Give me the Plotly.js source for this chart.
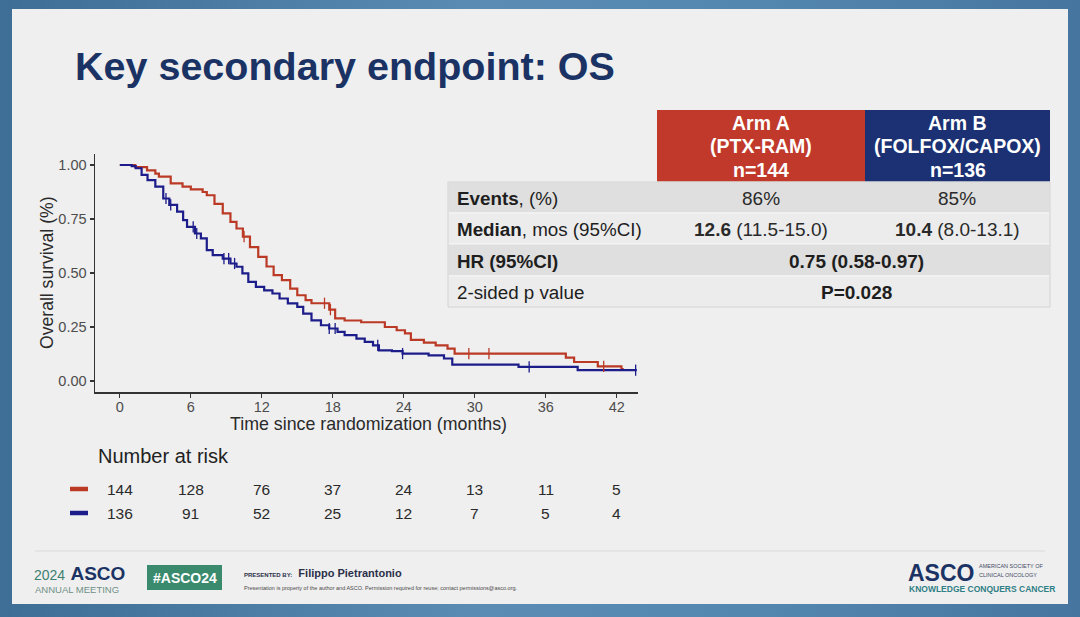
<!DOCTYPE html>
<html>
<head>
<meta charset="utf-8">
<script src="https://cdn.plot.ly/plotly-3.0.1.min.js"></script>
<style>
  html, body { margin: 0; padding: 0; }
  body {
    width: 1080px; height: 617px; overflow: hidden;
    background: linear-gradient(90deg, #3e6d95 0%, #5a8cb4 45%, #5487b0 70%, #46769f 100%);
  }
  #chart { width: 1080px; height: 617px; }
</style>
</head>
<body>
<div id="chart"></div>
<script>
(function () {
  "use strict";

  // ---------- Data ----------
  // Arm A (PTX-RAM): step times (months) and survival after each step
  const armA_t = [0, 1.3, 2.3, 3.0, 3.3, 4.3, 5.3, 6.0, 7.0, 7.35, 8.0, 8.7, 9.35, 9.86, 10.4, 11.0, 11.7,
                  12.4, 13.0, 13.7, 14.4, 15.0, 15.7, 16.2, 17.7, 18.2, 19.0, 20.4, 22.4, 23.4, 24.1, 24.6,
                  25.7, 26.7, 27.7, 28.3, 37.7, 38.4, 40.4, 42.4, 42.6];
  const armA_s = [1.0, 0.99, 0.975, 0.96, 0.946, 0.915, 0.90, 0.887, 0.875, 0.86, 0.82, 0.776, 0.737, 0.706,
                  0.668, 0.62, 0.575, 0.53, 0.49, 0.467, 0.428, 0.397, 0.374, 0.36, 0.33, 0.29, 0.28, 0.272,
                  0.25, 0.235, 0.22, 0.19, 0.178, 0.165, 0.15, 0.127, 0.108, 0.088, 0.068, 0.055, 0.055];
  // Arm B (FOLFOX/CAPOX)
  const armB_t = [0, 1.0, 1.34, 1.84, 2.34, 3.0, 3.67, 4.18, 4.84, 5.35, 5.68, 6.35, 6.85, 7.35, 7.85, 8.7,
                  9.35, 9.86, 10.36, 10.86, 11.5, 12.2, 12.9, 13.5, 14.2, 15.0, 15.5, 16.2, 17.0, 17.7, 18.4,
                  19.0, 20.0, 20.7, 21.4, 21.9, 23.0, 23.9, 26.1, 27.4, 28.1, 33.7, 38.7, 43.7];
  const armB_s = [1.0, 0.995, 0.985, 0.954, 0.93, 0.90, 0.845, 0.815, 0.784, 0.745, 0.714, 0.683, 0.66, 0.606,
                  0.583, 0.567, 0.544, 0.529, 0.498, 0.459, 0.436, 0.42, 0.405, 0.382, 0.359, 0.343, 0.312,
                  0.281, 0.258, 0.243, 0.227, 0.212, 0.196, 0.181, 0.165, 0.142, 0.138, 0.127, 0.119, 0.104,
                  0.076, 0.065, 0.05, 0.05];
  // censoring times
  const censA_t = [10.5, 17.3, 17.8, 29.5, 31.2, 40.9];
  const censB_t = [3.9, 4.3, 6.2, 6.5, 8.8, 9.2, 9.7, 17.7, 18.2, 21.8, 23.9, 34.6, 43.6];

  // number at risk
  const riskTimes = [0, 6, 12, 18, 24, 30, 36, 42];
  const riskA = [144, 128, 76, 37, 24, 13, 11, 5];
  const riskB = [136, 91, 52, 25, 12, 7, 5, 4];

  const yTicks = [0, 0.25, 0.5, 0.75, 1.0];
  const yTickText = ["0.00", "0.25", "0.50", "0.75", "1.00"];

  // summary table
  const tableRows = [
    ["<b>Events</b>, (%)", "86%", "85%"],
    ["<b>Median</b>, mos (95%CI)", "<b>12.6</b> (11.5-15.0)", "<b>10.4</b> (8.0-13.1)"],
    ["<b>HR (95%CI)</b>", "<b>0.75 (0.58-0.97)</b>"],
    ["2-sided p value", "<b>P=0.028</b>"]
  ];
  const armHeaders = [["Arm A", "(PTX-RAM)", "n=144"], ["Arm B", "(FOLFOX/CAPOX)", "n=136"]];

  // ---------- Colours ----------
  const C = {
    red: "#bb3a26",
    blue: "#1c1c8a",
    hdrRed: "#c0392b",
    hdrBlue: "#1b3173",
    navy: "#1b3364",
    text: "#1e1e1e",
    tick: "#4d4d4d",
    slide: "#efefef",
    rowDark: "#dfdfdf",
    rowLight: "#ececec",
    teal: "#3a8a6e"
  };
  const FONT = "Liberation Sans, Arial, sans-serif";
  const W = 1080, H = 617;
  const X = (px) => px / W;
  const Y = (py) => 1 - py / H;

  function survAt(t, ts, ss) {
    let v = ss[0];
    for (let i = 0; i < ts.length; i++) { if (ts[i] <= t) v = ss[i]; }
    return v;
  }

  // ---------- Traces ----------
  const traces = [
    {
      x: armA_t, y: armA_s, type: "scatter", mode: "lines",
      line: { color: C.red, width: 2.2, shape: "hv" }, hoverinfo: "skip"
    },
    {
      x: armB_t, y: armB_s, type: "scatter", mode: "lines",
      line: { color: C.blue, width: 2.2, shape: "hv" }, hoverinfo: "skip"
    },
    {
      x: censA_t, y: censA_t.map(t => survAt(t, armA_t, armA_s)), type: "scatter", mode: "markers",
      marker: { symbol: "line-ns-open", size: 8, color: C.red, line: { color: C.red, width: 1.3 } },
      hoverinfo: "skip"
    },
    {
      x: censB_t, y: censB_t.map(t => survAt(t, armB_t, armB_s)), type: "scatter", mode: "markers",
      marker: { symbol: "line-ns-open", size: 8, color: C.blue, line: { color: C.blue, width: 1.3 } },
      hoverinfo: "skip"
    }
  ];

  // ---------- Shapes ----------
  const shapes = [];
  // slide
  shapes.push({ type: "rect", xref: "paper", yref: "paper", x0: X(12), x1: X(1068), y0: Y(604), y1: Y(9),
    fillcolor: C.slide, line: { width: 0 }, layer: "below" });
  // footer rule
  shapes.push({ type: "line", xref: "paper", yref: "paper", x0: X(35), x1: X(1045), y0: Y(551), y1: Y(551),
    line: { color: "#d9d9d9", width: 1.2 } });

  // table geometry
  const tL = 448, tC1 = 657, tC2 = 865, tR = 1050;
  const hdrTop = 110, hdrBot = 182;
  const rowEdges = [182, 213, 244, 276, 307];
  shapes.push({ type: "rect", xref: "paper", yref: "paper", x0: X(tC1), x1: X(tC2), y0: Y(hdrBot), y1: Y(hdrTop),
    fillcolor: C.hdrRed, line: { width: 0 } });
  shapes.push({ type: "rect", xref: "paper", yref: "paper", x0: X(tC2), x1: X(tR), y0: Y(hdrBot), y1: Y(hdrTop),
    fillcolor: C.hdrBlue, line: { width: 0 } });
  for (let i = 0; i < tableRows.length; i++) {
    shapes.push({ type: "rect", xref: "paper", yref: "paper", x0: X(tL), x1: X(tR),
      y0: Y(rowEdges[i + 1]), y1: Y(rowEdges[i]),
      fillcolor: i % 2 === 0 ? C.rowDark : C.rowLight, line: { color: "#f6f6f6", width: 1 } });
  }
  shapes.push({ type: "rect", xref: "paper", yref: "paper", x0: X(tL), x1: X(tR), y0: Y(307), y1: Y(182),
    fillcolor: "rgba(0,0,0,0)", line: { color: "#cfcfcf", width: 1 } });

  // number-at-risk legend dashes
  shapes.push({ type: "line", xref: "paper", yref: "paper", x0: X(70), x1: X(88), y0: Y(489), y1: Y(489),
    line: { color: C.red, width: 4.5 } });
  shapes.push({ type: "line", xref: "paper", yref: "paper", x0: X(70), x1: X(88), y0: Y(513), y1: Y(513),
    line: { color: C.blue, width: 4.5 } });

  // footer badge
  shapes.push({ type: "rect", xref: "paper", yref: "paper", x0: X(147), x1: X(222), y0: Y(590), y1: Y(565),
    fillcolor: C.teal, line: { width: 0 } });

  // ---------- Annotations ----------
  const ann = [];
  function txt(x, y, text, size, color, opts) {
    ann.push(Object.assign({
      xref: "paper", yref: "paper", x: X(x), y: Y(y), text: text, showarrow: false,
      xanchor: "left", yanchor: "middle",
      font: { family: FONT, size: size, color: color }
    }, opts || {}));
  }

  // title
  txt(73, 66, "<b>Key secondary endpoint: OS</b>", 39.5, C.navy);

  // axis titles
  txt(368, 424, "Time since randomization (months)", 17.8, "#2a2a2a", { xanchor: "center" });
  txt(47, 273, "Overall survival (%)", 17.6, "#2a2a2a", { xanchor: "center", textangle: -90 });

  // table text
  const hdrLineY = [123, 146, 170];
  armHeaders.forEach((lines, k) => {
    const xc = k === 0 ? (tC1 + tC2) / 2 : (tC2 + tR) / 2;
    lines.forEach((s, j) => txt(xc, hdrLineY[j], "<b>" + s + "</b>", 19.5, "#ffffff", { xanchor: "center" }));
  });
  tableRows.forEach((row, i) => {
    const yc = (rowEdges[i] + rowEdges[i + 1]) / 2 + 1;
    txt(455, yc, row[0], 18.8, C.text);
    if (row.length === 3) {
      txt(761, yc, row[1], 19, "#2a2a2a", { xanchor: "center" });
      txt(957, yc, row[2], 19, "#2a2a2a", { xanchor: "center" });
    } else {
      txt(856, yc, row[1], 19, "#1e1e1e", { xanchor: "center" });
    }
  });

  // number at risk
  txt(96, 456, "Number at risk", 20, "#222222");
  riskTimes.forEach((t, i) => {
    ann.push({ xref: "x", yref: "paper", x: t, y: Y(489), text: String(riskA[i]), showarrow: false,
      xanchor: "center", yanchor: "middle", font: { family: FONT, size: 15.5, color: "#2a2a2a" } });
    ann.push({ xref: "x", yref: "paper", x: t, y: Y(513), text: String(riskB[i]), showarrow: false,
      xanchor: "center", yanchor: "middle", font: { family: FONT, size: 15.5, color: "#2a2a2a" } });
  });

  // footer left
  txt(32, 573, "<span style='font-size:14px;color:#3d7f70'>2024</span> <b>ASCO</b>", 19, C.navy);
  txt(33, 589, "ANNUAL MEETING", 9.5, "#6f8f88");
  txt(184.5, 578, "<b>#ASCO24</b>", 14, "#ffffff", { xanchor: "center" });
  txt(242, 573, "<span style='font-size:6px'><b>PRESENTED BY:</b></span>  <b>Filippo Pietrantonio</b>", 11, "#2b2f4a");
  txt(242, 588, "Presentation is property of the author and ASCO. Permission required for reuse; contact permissions@asco.org.",
    5.5, "#4a4a4a");

  // footer right
  txt(906, 573, "<b>ASCO</b>", 23, C.navy);
  txt(977, 566, "AMERICAN SOCIETY OF", 5.5, "#444a66");
  txt(977, 575, "CLINICAL ONCOLOGY", 5.5, "#444a66");
  txt(907, 589, "<b>KNOWLEDGE CONQUERS CANCER</b>", 8.5, "#2f7f86");

  // ---------- Layout ----------
  const axisCommon = {
    showgrid: false, zeroline: false,
    showline: true, linecolor: "#333333", linewidth: 1.5,
    ticks: "outside", ticklen: 4, tickcolor: "#333333", tickwidth: 1.3,
    tickfont: { family: FONT, size: 14.5, color: C.tick },
    fixedrange: true
  };
  const layout = {
    width: W, height: H,
    margin: { l: 0, r: 0, t: 0, b: 0 },
    paper_bgcolor: "rgba(0,0,0,0)",
    plot_bgcolor: "rgba(0,0,0,0)",
    showlegend: false,
    font: { family: FONT, color: C.tick },
    xaxis: Object.assign({}, axisCommon, {
      domain: [X(95), X(638)],
      range: [-2.1, 43.8],
      tickvals: riskTimes,
      ticktext: riskTimes.map(String),
      ticklabelstandoff: -3
    }),
    yaxis: Object.assign({}, axisCommon, {
      domain: [Y(392), Y(154)],
      range: [-0.051, 1.051],
      tickvals: yTicks,
      ticktext: yTickText
    }),
    shapes: shapes,
    annotations: ann
  };

  Plotly.newPlot("chart", traces, layout, { displayModeBar: false, staticPlot: true });
})();
</script>
</body>
</html>
